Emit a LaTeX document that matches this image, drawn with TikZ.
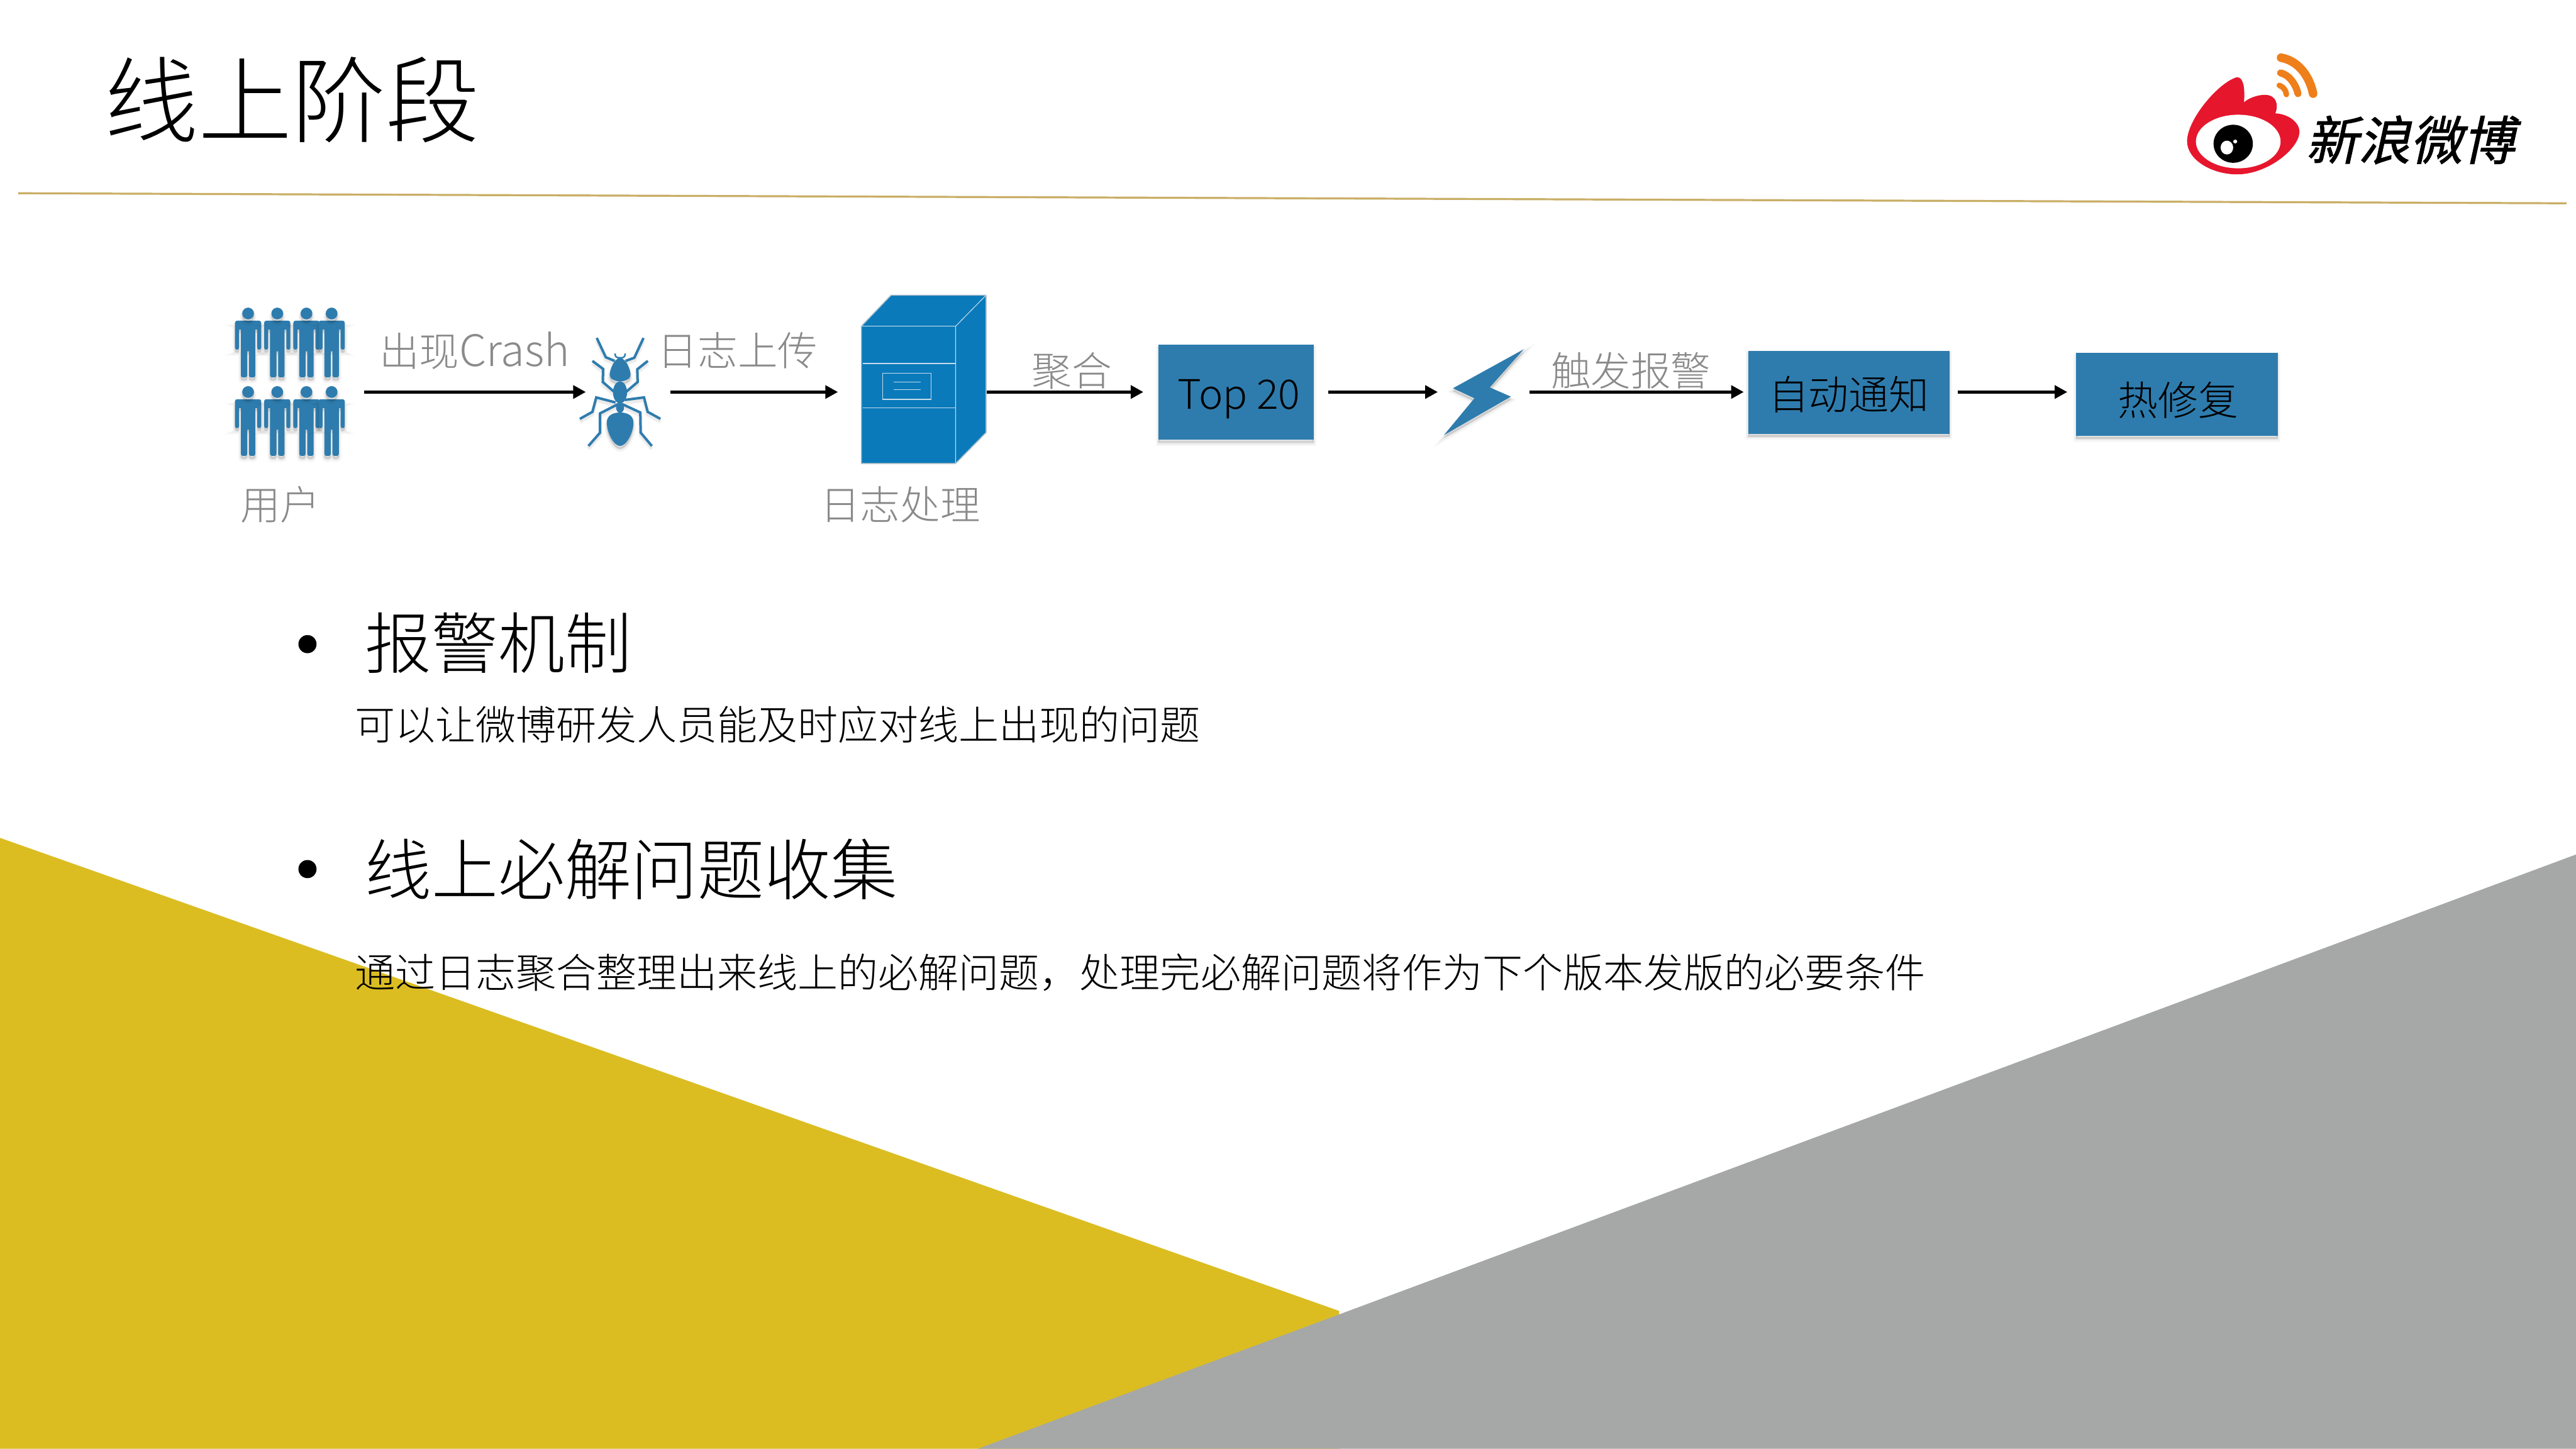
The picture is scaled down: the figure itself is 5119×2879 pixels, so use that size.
\documentclass[tikz,border=0pt]{standalone}
\usepackage{fontspec}
\usetikzlibrary{arrows.meta}
\setmainfont{Noto Sans CJK SC}[UprightFont=* Light]
\newfontfamily\logofont[FakeSlant=0.22,FakeBold=1.2]{Noto Sans CJK SC}
\definecolor{feltblue}{HTML}{2E7CAE}
\definecolor{serverblue}{HTML}{0A7ABB}
\definecolor{serverline}{HTML}{C4DCEA}
\definecolor{labelgray}{HTML}{8A8A8A}
\definecolor{ruleline}{HTML}{C9AE66}
\definecolor{wedgeyellow}{HTML}{DBBD22}
\definecolor{wedgegray}{HTML}{A6A8A7}
\definecolor{logored}{HTML}{E6162D}
\definecolor{logoorange}{HTML}{EE7F1A}
\tikzset{
  softshadow/.style={
    preaction={draw=black,fill=black,line width=.10cm,opacity=.03,transform canvas={yshift=-.07cm}},
    preaction={draw=black,fill=black,line width=.06cm,opacity=.04,transform canvas={yshift=-.06cm}},
    preaction={draw=black,fill=black,line width=.02cm,opacity=.05,transform canvas={yshift=-.05cm}}},
  softline/.style={
    preaction={draw=black,line width=.09cm,opacity=.03,transform canvas={yshift=-.06cm}},
    preaction={draw=black,line width=.06cm,opacity=.05,transform canvas={yshift=-.05cm}}},
  felt/.style={fill=feltblue,softshadow},
  flow/.style={line width=.055cm,-{Triangle[length=.25cm,width=.26cm]},black},
  bluebox/.style={felt,inner sep=0pt,text=black,font=\fontsize{22.7}{26}\selectfont},
  graylabel/.style={text=labelgray,inner sep=0pt,font=\fontsize{22.6}{26}\selectfont},
  heading/.style={anchor=west,inner sep=0pt,text=black,font=\fontsize{37.6}{44}\selectfont},
  bodytext/.style={anchor=west,inner sep=0pt,text=black,font=\fontsize{22.75}{28}\selectfont},
  srvline/.style={draw=serverline,line width=.014cm},
  person/.pic={
    \fill[felt,rounded corners=.04cm]
      (-26,14.3) rectangle (26,32)
      (-26,20) rectangle (-18,72)
      (18,20) rectangle (26,72)
      (-14.3,20) rectangle (14.3,75)
      (-14.3,60) rectangle (-1.7,127)
      (1.7,60) rectangle (14.3,127);
    \fill[felt] (0,0) circle[radius=.117cm];
  },
}
\begin{document}
\begin{tikzpicture}[x=0.01cm,y=-0.01cm]
\useasboundingbox (0,0) rectangle (5119,2879);
\fill[white] (0,0) rectangle (5119,2879);
% background wedges
\fill[wedgeyellow] (0,1665) -- (2661,2605) -- (2661,2879) -- (0,2879) -- cycle;
\fill[wedgegray] (1943,2879) -- (5119,1698) -- (5119,2879) -- cycle;
% title and rule
\node[anchor=west,inner sep=0pt,font=\fontsize{53}{60}\selectfont] (title) at (207,199) {线上阶段};
\coordinate (ruleL) at (36,384);
\coordinate (ruleR) at (5100,404);
\draw[ruleline,line width=.04cm] (ruleL) -- (ruleR);
% logo
\begin{scope}[shift={(4280,70)},x=0.005cm,y=-0.00343cm]
  \fill[logored] (358,388) .. controls (362,300) and (355,243) .. (330,243)
    .. controls (260,270) and (135,480) .. (132,610)
    .. controls (130,720) and (230,805) .. (330,805)
    .. controls (450,805) and (575,660) .. (578,560)
    .. controls (578,500) and (530,455) .. (482,452)
    .. controls (495,410) and (490,345) .. (440,345)
    .. controls (410,345) and (375,365) .. (358,388) -- cycle;
  \fill[white] (335,615) ellipse[x radius=168,y radius=155];
  \fill[black] (315,628) ellipse[x radius=78,y radius=110];
  \fill[white] (290,650) ellipse[x radius=25,y radius=40];
  \fill[white] (323,615) ellipse[x radius=8,y radius=11];
  \draw[logoorange,line width=.17cm,line cap=round] (505,130) .. controls (580,150) and (620,250) .. (632,338);
  \draw[logoorange,line width=.14cm,line cap=round] (503,218) .. controls (540,230) and (565,290) .. (572,338);
  \draw[logoorange,line width=.11cm,line cap=round] (498,290) .. controls (515,300) and (525,320) .. (526,343);
\end{scope}
\node[anchor=center,inner sep=0pt,font=\logofont\fontsize{29.5}{34}\selectfont] (logotext) at (4790,278) {新浪微博};
% users
\pic (u1) at (493,623) {person};
\pic (u2) at (551,623) {person};
\pic (u3) at (609,623) {person};
\pic (u4) at (659,623) {person};
\pic (u5) at (493,779) {person};
\pic (u6) at (551,779) {person};
\pic (u7) at (609,779) {person};
\pic (u8) at (659,779) {person};
\node[graylabel] (userlabel) at (557,1003) {用户};
% ant
\begin{scope}[shift={(1120,640)},x=0.003333cm,y=-0.003333cm]
  \draw[softline,draw=feltblue,line width=.05cm,line join=miter]
    (198,95) -- (252,210) -- (305,232)
    (477,95) -- (422,213) -- (370,232)
    (172,232) -- (236,280) -- (234,358) -- (300,415)
    (503,232) -- (440,282) -- (442,358) -- (375,415)
    (97,578) -- (172,536) -- (195,450) -- (310,480)
    (578,578) -- (502,536) -- (480,450) -- (365,465)
    (148,740) -- (218,660) -- (218,545) -- (325,490)
    (527,740) -- (460,660) -- (458,540) -- (350,490);
  \draw[feltblue,line width=.03cm] (307,187) .. controls (307,205) and (315,213) .. (330,213) -- (345,213) .. controls (360,213) and (368,205) .. (368,187);
  \fill[felt] (337,215) .. controls (375,215) and (400,290) .. (400,315) .. controls (400,340) and (370,352) .. (337,355) .. controls (305,352) and (275,340) .. (275,315) .. controls (275,290) and (300,215) .. (337,215) -- cycle;
  \fill[feltblue] (337,420) ellipse[x radius=42,y radius=66];
  \fill[feltblue] (337,510) ellipse[x radius=24,y radius=32];
  \fill[felt] (337,540) .. controls (385,540) and (417,560) .. (417,600) .. controls (417,660) and (375,740) .. (337,740) .. controls (300,740) and (258,660) .. (258,600) .. controls (258,560) and (290,540) .. (337,540) -- cycle;
\end{scope}
% server
\begin{scope}[shift={(1680,570)},x=0.003333cm,y=-0.003333cm]
  \filldraw[fill=serverblue,draw=serverline!70!gray,line width=.02cm]
    (95,235) -- (272,50) -- (840,50) -- (840,870) -- (658,1055) -- (95,1055) -- cycle;
  \draw[srvline] (95,235) -- (658,235) -- (840,50) (658,235) -- (658,1055);
  \draw[srvline] (103,458) -- (655,458) (103,722) -- (655,722);
  \draw[srvline] (222,515) rectangle (513,672);
  \draw[srvline] (288,567) -- (450,567) (288,615) -- (450,615);
\end{scope}
\node[graylabel] (serverlabel) at (1789,1003) {日志处理};
% bolt
\begin{scope}[shift={(2840,680)},x=0.003333cm,y=-0.003333cm]
  \fill[felt] (565,42) -- (362,270) -- (488,325) -- (88,555) -- (270,335) -- (142,275) -- cycle;
\end{scope}
% boxes
\node[bluebox,font=\fontsize{23}{26}\selectfont,minimum width=3.08cm,minimum height=1.89cm] (top20) at (2456,779.5) {\hspace*{.12cm}\raisebox{-.335cm}[0pt][0pt]{Top 20}};
\node[bluebox,minimum width=4cm,minimum height=1.65cm] (notify) at (3674,779.5) {\raisebox{-.345cm}[0pt][0pt]{自动通知}};
\node[bluebox,minimum width=4cm,minimum height=1.65cm] (hotfix) at (4326,783.5) {\hspace*{.05cm}\raisebox{-.415cm}[0pt][0pt]{热修复}};
% arrows
\coordinate (a1s) at (724,779); \coordinate (a1e) at (1164,779);
\coordinate (a2s) at (1332,779); \coordinate (a2e) at (1665,779);
\coordinate (a3s) at (1961,779); \coordinate (a3e) at (2272,779);
\coordinate (a4s) at (2640,779); \coordinate (a4e) at (2857,779);
\coordinate (a5s) at (3039,779); \coordinate (a5e) at (3465,779);
\coordinate (a6s) at (3890,779); \coordinate (a6e) at (4108,779);
\draw[flow] (a1s) -- (a1e);
\draw[flow] (a2s) -- (a2e);
\draw[flow] (a3s) -- (a3e);
\draw[flow] (a4s) -- (a4e);
\draw[flow] (a5s) -- (a5e);
\draw[flow] (a6s) -- (a6e);
% arrow labels
\node[graylabel] (l1) at (943,697) {出现{\fontsize{24.5}{26}\selectfont Crash}};
\node[graylabel] (l2) at (1466,697) {日志上传};
\node[graylabel] (l3) at (2130,737) {聚合};
\node[graylabel] (l4) at (3241,737) {触发报警};
% bullets
\fill[black] (611,1280) circle[radius=.18cm];
\node[heading] (h1) at (725,1277) {报警机制};
\node[bodytext] (b1) at (705,1440) {可以让微博研发人员能及时应对线上出现的问题};
\fill[black] (611,1727) circle[radius=.18cm];
\node[heading] (h2) at (725,1727) {线上必解问题收集};
\node[bodytext] (b2) at (705,1932) {通过日志聚合整理出来线上的必解问题，处理完必解问题将作为下个版本发版的必要条件};
\end{tikzpicture}
\end{document}
